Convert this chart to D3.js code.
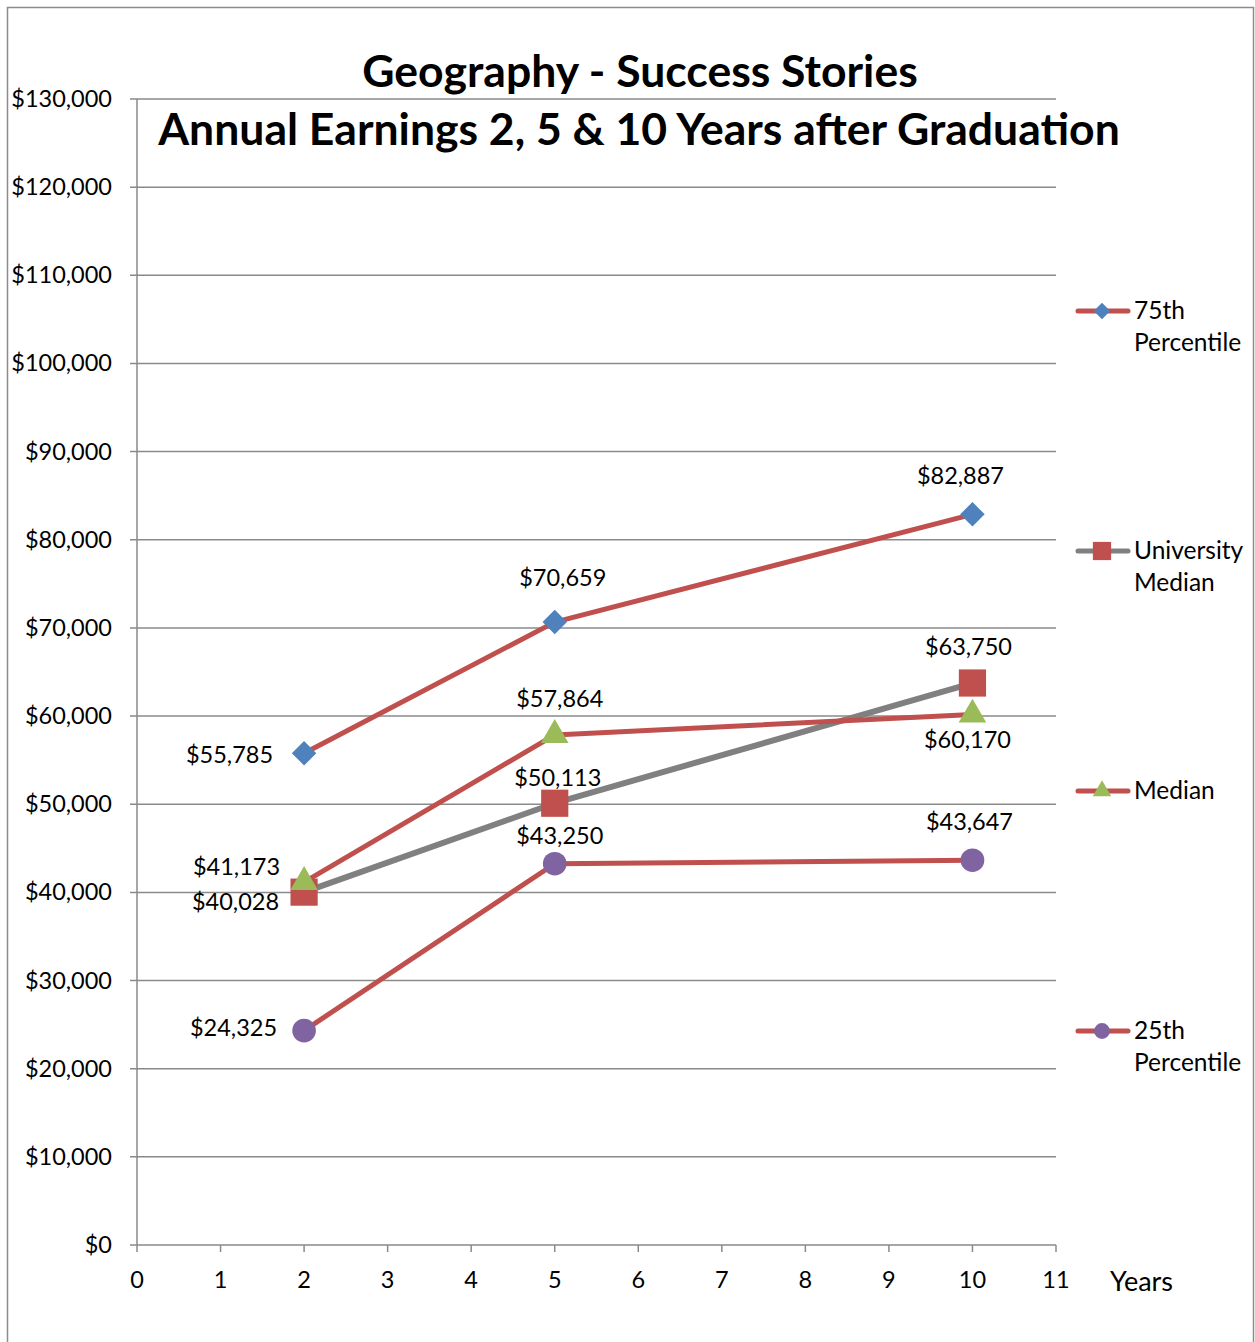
<!DOCTYPE html>
<html>
<head>
<meta charset="utf-8">
<script src="https://cdn.jsdelivr.net/npm/d3@7"></script>
<style>
  body { margin: 0; background: #fff; }
  text { font-family: Lato, "Open Sans", sans-serif; fill: #000; }
</style>
</head>
<body>
<div id="chart"></div>
<script>
// DATA
const years = [2, 5, 10];
const seriesNames = ["75th Percentile", "University Median", "Median", "25th Percentile"];
const p75 = [55785, 70659, 82887];
const uniMedian = [40028, 50113, 63750];
const median = [41173, 57864, 60170];
const p25 = [24325, 43250, 43647];
const yTicks = d3.range(0, 130001, 10000);
const xTicks = d3.range(0, 12);
const titleLines = ["Geography - Success Stories", "Annual Earnings 2, 5 & 10 Years after Graduation"];

// label offsets from each point [dx, dy, anchor]
const labelOffsets = [
	[[-31, 10, "end"], [8, -36, "middle"], [-12, -30, "middle"]],
	[[-25, 18, "end"], [3, -17, "middle"], [-4, -28, "middle"]],
	[[-24, -7, "end"], [5, -28, "middle"], [-5, 33, "middle"]],
	[[-27, 5, "end"], [5, -20, "middle"], [-3, -30, "middle"]]
];

const red = "#C0504D", blue = "#4F81BD", green = "#9BBB59", purple = "#8064A2", gray = "#808080";
const styles = [
	{ line: red, marker: blue, shape: d3.symbolSquare, rot: 45, size: 300, lw: 5 },
	{ line: gray, marker: red, shape: d3.symbolSquare, rot: 0, size: 740, lw: 6 },
	{ line: red, marker: green, shape: d3.symbolTriangle, rot: 0, size: 330, lw: 5 },
	{ line: red, marker: purple, shape: d3.symbolCircle, rot: 0, size: 440, lw: 5 }
];
const allValues = [p75, uniMedian, median, p25];

const W = 1255, H = 1342;
const margin = { left: 137, right: 199, top: 99, bottom: 97 };

const svg = d3.select("#chart").append("svg")
	.attr("width", W).attr("height", H);

// Frame
svg.append("rect")
	.attr("x", 7.5).attr("y", 7.5)
	.attr("width", 1246).attr("height", 1345)
	.attr("fill", "none").attr("stroke", "#8c8c8c").attr("stroke-width", 1.5);

const x = d3.scaleLinear().domain([0, 11]).range([margin.left, W - margin.right]);
const y = d3.scaleLinear().domain([0, 130000]).range([H - margin.bottom, margin.top]);

// Gridlines + y labels
svg.selectAll(".grid")
	.data(yTicks).enter().append("line")
	.attr("x1", margin.left - 7).attr("x2", x(11))
	.attr("y1", d => y(d)).attr("y2", d => y(d))
	.attr("stroke", "#8a8a8a").attr("stroke-width", 1.5);

svg.selectAll(".ylab")
	.data(yTicks).enter().append("text")
	.attr("x", 112).attr("y", d => y(d) + 8)
	.attr("text-anchor", "end")
	.style("font-size", "23.5px")
	.text(d => "$" + d3.format(",")(d));

// Y axis line
svg.append("line")
	.attr("x1", x(0)).attr("x2", x(0))
	.attr("y1", y(130000)).attr("y2", y(0))
	.attr("stroke", "#8a8a8a").attr("stroke-width", 1.5);

// X ticks + labels
svg.selectAll(".xtick")
	.data(xTicks).enter().append("line")
	.attr("x1", d => x(d)).attr("x2", d => x(d))
	.attr("y1", y(0)).attr("y2", y(0) + 7)
	.attr("stroke", "#8a8a8a").attr("stroke-width", 1.5);

svg.selectAll(".xlab")
	.data(xTicks).enter().append("text")
	.attr("x", d => x(d)).attr("y", y(0) + 43)
	.attr("text-anchor", "middle")
	.style("font-size", "23.5px")
	.text(d => d);

svg.append("text")
	.attr("x", 1110).attr("y", 1291)
	.style("font-size", "27px")
	.text("Years");

// Titles
svg.append("text")
	.attr("x", 640).attr("y", 87)
	.attr("text-anchor", "middle")
	.style("font-size", "44.5px").style("font-weight", 700)
	.text(titleLines[0]);
svg.append("text")
	.attr("x", 639).attr("y", 145)
	.attr("text-anchor", "middle")
	.style("font-size", "44.5px").style("font-weight", 700)
	.text(titleLines[1]);

// Lines and markers
const valueline = d3.line()
	.x(d => x(d[0]))
	.y(d => y(d[1]));

allValues.forEach((vals, i) => {
	const st = styles[i];
	const datum = d3.zip(years, vals);
	svg.append("path")
		.datum(datum)
		.attr("d", valueline)
		.attr("fill", "none")
		.attr("stroke", st.line)
		.attr("stroke-width", st.lw)
		.attr("stroke-linejoin", "round");
	svg.selectAll(".m" + i)
		.data(datum).enter().append("path")
		.attr("d", d3.symbol().type(st.shape).size(st.size))
		.attr("transform", d => "translate(" + x(d[0]) + "," + y(d[1]) + ") rotate(" + st.rot + ")")
		.attr("fill", st.marker);
});

// Data labels
allValues.forEach((vals, i) => {
	vals.forEach((v, j) => {
		const o = labelOffsets[i][j];
		svg.append("text")
			.attr("x", x(years[j]) + o[0]).attr("y", y(v) + o[1])
			.attr("text-anchor", o[2])
			.style("font-size", "23.5px")
			.text("$" + d3.format(",")(v));
	});
});

// Legend
const legendY = [311, 551, 791, 1031];
seriesNames.forEach((name, i) => {
	const st = styles[i];
	const g = svg.append("g").attr("transform", "translate(0," + legendY[i] + ")");
	g.append("line")
		.attr("x1", 1078).attr("x2", 1128)
		.attr("stroke", st.line).attr("stroke-width", 5)
		.attr("stroke-linecap", "round");
	g.append("path")
		.attr("d", d3.symbol().type(st.shape).size(st.size * 0.45))
		.attr("transform", "translate(1102,0) rotate(" + st.rot + ")")
		.attr("fill", st.marker);
	const words = name.split(" ");
	const first = words.slice(0, words.length - 1).join(" ");
	const last = words[words.length - 1];
	const lines = words.length > 1 ? [first, last] : [name];
	lines.forEach((t, k) => {
		g.append("text")
			.attr("x", 1134).attr("y", 8 + k * 32)
			.style("font-size", "24.5px")
			.text(t);
	});
});
</script>
</body>
</html>
